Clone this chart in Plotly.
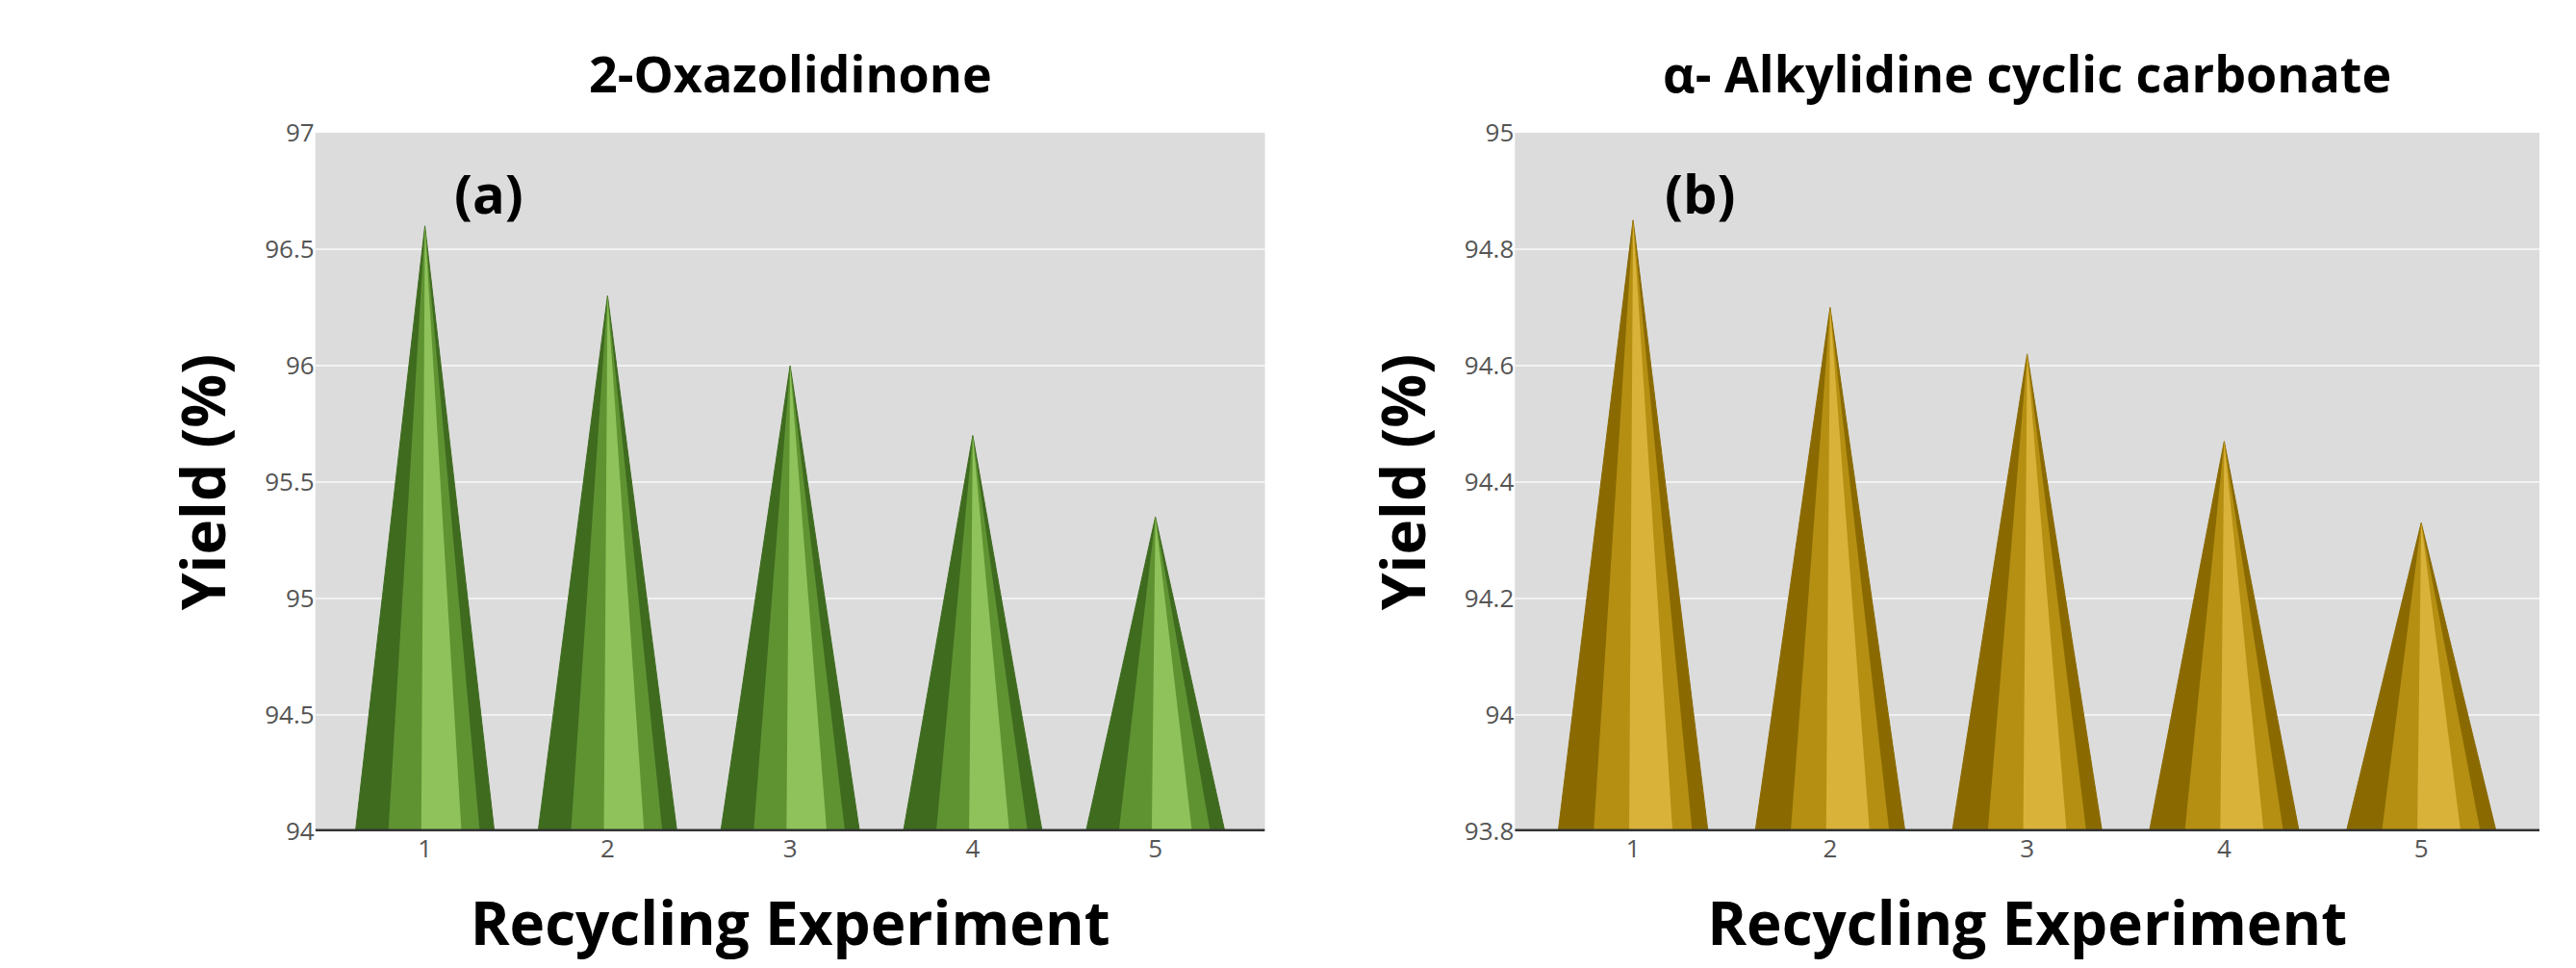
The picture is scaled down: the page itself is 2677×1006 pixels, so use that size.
import plotly.graph_objects as go
from plotly.subplots import make_subplots

# Data
runs = [1, 2, 3, 4, 5]
oxazolidinone_yield = [96.6, 96.3, 96.0, 95.7, 95.35]
carbonate_yield = [94.85, 94.7, 94.62, 94.47, 94.33]

titles = ["2-Oxazolidinone", "α- Alkylidine cyclic carbonate"]
labels = ["(a)", "(b)"]
dark = ["#3f6b1f", "#8a6a00"]
mid = ["#5f9332", "#b58f12"]
light = ["#8fc25a", "#d9b23a"]
ranges = [[94, 97], [93.8, 95]]
dticks = [0.5, 0.2]

fig = make_subplots(rows=1, cols=2, horizontal_spacing=0.05)
font = "Open Sans, Calibri, Arial"

for col, (vals, c_dark, c_mid, c_light) in enumerate(
        zip([oxazolidinone_yield, carbonate_yield], dark, mid, light), start=1):
    base = ranges[col - 1][0]
    w = 0.38
    for x, v in zip(runs, vals):
        # cone body
        fig.add_trace(go.Scatter(
            x=[x - w, x, x + w, x - w], y=[base, v, base, base],
            fill="toself", fillcolor=c_dark, mode="lines",
            line=dict(color=c_dark, width=1), hoverinfo="skip", showlegend=False),
            row=1, col=col)
        # shading
        fig.add_trace(go.Scatter(
            x=[x - 0.2, x, x + 0.3, x - 0.2], y=[base, v, base, base],
            fill="toself", fillcolor=c_mid, mode="lines",
            line=dict(width=0), hoverinfo="skip", showlegend=False),
            row=1, col=col)
        # highlight
        fig.add_trace(go.Scatter(
            x=[x - 0.02, x, x + 0.2, x - 0.02], y=[base, v, base, base],
            fill="toself", fillcolor=c_light, mode="lines",
            line=dict(width=0), hoverinfo="skip", showlegend=False),
            row=1, col=col)
    fig.update_xaxes(range=[0.4, 5.6], tickvals=runs, showgrid=False,
                     zeroline=False, showline=False, ticks="",
                     tickfont=dict(size=26, color="#555"),
                     title=dict(text="<b>Recycling Experiment</b>",
                                font=dict(size=62, color="black", family=font),
                                standoff=40),
                     row=1, col=col)
    fig.update_yaxes(range=ranges[col - 1], dtick=dticks[col - 1],
                     gridcolor="#f2f2f2", gridwidth=2, zeroline=False,
                     showline=False, tickfont=dict(size=26, color="#555"),
                     title=dict(text="<b>Yield (%)</b>",
                                font=dict(size=62, color="black", family=font),
                                standoff=20),
                     row=1, col=col)

# floor line
for xref, yref, y0 in [("x", "y", 94), ("x2", "y2", 93.8)]:
    fig.add_shape(type="line", xref=xref, yref=yref, x0=0.4, x1=5.6,
                  y0=y0, y1=y0, line=dict(color="#333", width=5))

for i, (t, lab) in enumerate(zip(titles, labels)):
    sfx = "" if i == 0 else "2"
    fig.add_annotation(text=f"<b>{t}</b>", x=0.5, xref=f"x{sfx} domain",
                       y=1.0, yref=f"y{sfx} domain", yshift=25,
                       showarrow=False, yanchor="bottom",
                       font=dict(size=52, color="black", family=font))
    fig.add_annotation(text=f"<b>{lab}</b>", x=1.15, xref=f"x{sfx}",
                       y=0.97, yref=f"y{sfx} domain",
                       showarrow=False, xanchor="left", yanchor="top",
                       font=dict(size=56, color="black", family=font))

fig.update_xaxes(domain=[0.1, 0.48], row=1, col=1)
fig.update_xaxes(domain=[0.58, 0.99], row=1, col=2)
fig.update_layout(
    width=2677, height=1006,
    paper_bgcolor="white", plot_bgcolor="#dcdcdc",
    margin=dict(l=60, r=20, t=130, b=150),
    font=dict(family=font),
)

fig.write_html("out.html")
